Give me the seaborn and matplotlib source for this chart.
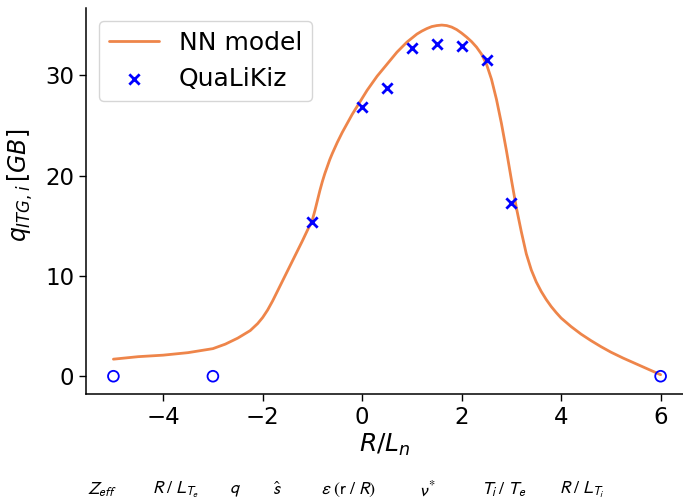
import numpy as np
import pandas as pd
import matplotlib
matplotlib.use("Agg")
import matplotlib.pyplot as plt
import seaborn as sns

# NN model prediction of the ITG ion heat flux along the R/L_n scan
nn_x = [-5.0, -4.5, -4.0, -3.5, -3.0, -2.75, -2.5, -2.25, -2.1, -2.0, -1.9, -1.8,
        -1.7, -1.6, -1.5, -1.4, -1.3, -1.2, -1.1, -1.05, -1.0, -0.95, -0.9, -0.85,
        -0.8, -0.75, -0.7, -0.65, -0.6, -0.5, -0.4, -0.3, -0.2, -0.1, 0.0, 0.1,
        0.2, 0.3, 0.4, 0.5, 0.6, 0.7, 0.8, 0.9, 1.0, 1.1, 1.2, 1.3, 1.4, 1.5,
        1.6, 1.7, 1.8, 1.9, 2.0, 2.1, 2.2, 2.3, 2.4, 2.5, 2.6, 2.7, 2.8, 2.9,
        3.0, 3.1, 3.2, 3.3, 3.4, 3.5, 3.6, 3.7, 3.8, 3.9, 4.0, 4.2, 4.4, 4.6,
        4.8, 5.0, 5.25, 5.5, 5.75, 6.0]
nn_q = [1.7, 1.95, 2.1, 2.35, 2.75, 3.2, 3.8, 4.55, 5.25, 5.85, 6.6, 7.5,
        8.5, 9.5, 10.5, 11.5, 12.5, 13.5, 14.55, 15.05, 15.6, 16.5, 17.5, 18.5,
        19.4, 20.2, 20.9, 21.6, 22.2, 23.3, 24.3, 25.2, 26.1, 26.9, 27.7, 28.5,
        29.2, 29.9, 30.5, 31.1, 31.7, 32.3, 32.8, 33.3, 33.7, 34.1, 34.4, 34.65, 34.85, 34.95,
        35.0, 34.95, 34.8, 34.55, 34.2, 33.8, 33.35, 32.8, 32.1, 31.1, 29.6, 27.6, 25.2, 22.5,
        19.6, 16.8, 14.4, 12.2, 10.6, 9.4, 8.45, 7.65, 6.95, 6.35, 5.8, 4.95, 4.2, 3.55,
        2.95, 2.4, 1.8, 1.25, 0.7, 0.15]

# QuaLiKiz reference runs (unstable points)
qlk_x = [-1.0, 0.0, 0.5, 1.0, 1.5, 2.0, 2.5, 3.0]
qlk_q = [15.4, 26.8, 28.7, 32.7, 33.1, 32.9, 31.5, 17.3]

# QuaLiKiz runs that returned zero flux (stable)
stable_x = [-5.0, -3.0, 6.0]
stable_q = [0.0, 0.0, 0.0]

# Input parameters listed under the plot
param_labels = [r"$Z_{eff}$", r"$R\;/\;L_{T_e}$", r"$q$", r"$\hat{s}$",
                r"$\varepsilon\;(\mathrm{r}\;/\;R)$", r"$\nu^*$", r"$T_i\;/\;T_e$",
                r"$R\;/\;L_{T_i}$"]
param_xpos = [102, 176, 235, 277, 349, 428, 504, 582]

sns.set_style("ticks")
plt.rcParams["font.family"] = ["DejaVu Sans"]
for key in ["text.color", "axes.labelcolor", "xtick.color", "ytick.color",
            "axes.edgecolor"]:
    plt.rcParams[key] = "black"

fig = plt.figure(figsize=(6.83, 5.01), dpi=100)
ax = fig.add_axes([0.126, 0.214, 0.874, 0.770])

nn_df = pd.DataFrame({"x": nn_x, "q": nn_q})
qlk_df = pd.DataFrame({"x": qlk_x, "q": qlk_q})
st_df = pd.DataFrame({"x": stable_x, "q": stable_q})

sns.lineplot(data=nn_df, x="x", y="q", ax=ax, color="#EE854A", linewidth=2,
             label="NN model", sort=False, estimator=None)
sns.scatterplot(data=qlk_df, x="x", y="q", ax=ax, marker="x", color="blue",
                s=55, linewidth=2, label="QuaLiKiz", zorder=3)
ax.scatter(st_df["x"], st_df["q"], marker="o", facecolors="none",
           edgecolors="blue", s=60, linewidths=1.3, zorder=3)

ax.set_xlim(-5.55, 6.45)
ax.set_ylim(-1.75, 36.7)
ax.set_xticks([-4, -2, 0, 2, 4, 6])
ax.set_yticks([0, 10, 20, 30])
ax.tick_params(labelsize=16.5, length=5, width=1, colors="black")
ax.set_xlabel(r"$R/L_n$", fontsize=18, labelpad=2)
ax.set_ylabel(r"$q_{ITG,i}\,[GB]$", fontsize=17)
ax.yaxis.set_label_coords(-0.085, 0.54)
sns.despine(ax=ax)
for sp in ax.spines.values():
    sp.set_linewidth(1.1)

leg = ax.legend(loc="upper left", fontsize=18, frameon=True, borderpad=0.4,
                handlelength=2.0, bbox_to_anchor=(0.0, 1.0))
leg.get_frame().set_edgecolor("#cccccc")

for lbl, px in zip(param_labels, param_xpos):
    fig.text(px / 683, 1 - 490 / 501, lbl, ha="center", va="center",
             fontsize=13, color="black", math_fontfamily="stixsans")

fig.savefig("out.png", dpi=100)
